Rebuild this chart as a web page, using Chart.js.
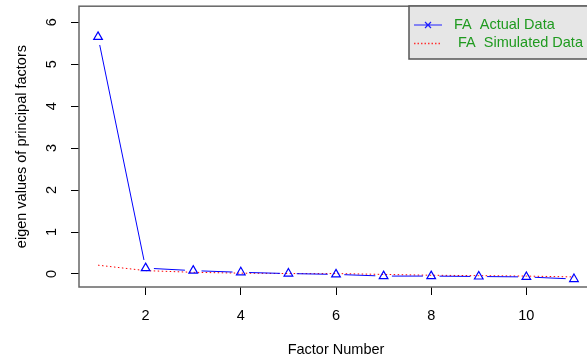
<!DOCTYPE html>
<html>
<head>
<meta charset="utf-8">
<script src="https://cdn.jsdelivr.net/npm/chart.js@4.4.1/dist/chart.umd.min.js"></script>
<style>
  html, body { margin: 0; padding: 0; background: #fff; overflow: hidden; }
  #wrap { width: 587px; height: 364px; overflow: hidden; position: relative; }
  canvas { position: absolute; left: 0; top: 0; }
</style>
</head>
<body>
<div id="wrap"><canvas id="myChart" width="600" height="364"></canvas></div>
<script>
const factors = [1, 2, 3, 4, 5, 6, 7, 8, 9, 10, 11];
const actual = [5.65, 0.14, 0.08, 0.04, 0.01, -0.01, -0.05, -0.05, -0.06, -0.07, -0.12];
const simulated = [0.21, 0.08, 0.04, 0.02, 0.01, 0.01, -0.01, -0.03, -0.04, -0.05, -0.07];
const xTicks = [2, 4, 6, 8, 10];
const yTicks = [0, 1, 2, 3, 4, 5, 6];

const FONT = "'Liberation Sans', Arial, sans-serif";
const GAP = 8.3; // blank space left around each point, like type = "b"

Chart.defaults.font.family = FONT;
Chart.defaults.font.size = 14.5;
Chart.defaults.color = '#000';

function gapDash(c) {
  const len = Math.hypot(c.p1.x - c.p0.x, c.p1.y - c.p0.y);
  return [Math.max(len - 2 * GAP, 0), 2 * GAP];
}

// scales keep a fixed size and add no edge padding for their labels
function fixSize(w, h) {
  return s => {
    if (w) s.width = w;
    if (h) s.height = h;
    s.paddingTop = 0;
    s.paddingBottom = 0;
    s.paddingLeft = 0;
    s.paddingRight = 0;
  };
}

// grey frame round the plotting region
const frame = {
  id: 'frame',
  beforeDatasetsDraw(chart) {
    const a = chart.chartArea, c = chart.ctx;
    c.save();
    c.strokeStyle = '#666';
    c.lineWidth = 1.5;
    c.strokeRect(a.left, a.top, a.right - a.left, a.bottom - a.top);
    c.restore();
  }
};

// legend box in the top right corner
const boxLegend = {
  id: 'boxLegend',
  afterDraw(chart) {
    const c = chart.ctx;
    c.save();
    c.fillStyle = '#e6e6e6';
    c.fillRect(409, 6, 200, 53);
    c.strokeStyle = '#555';
    c.lineWidth = 1.5;
    c.strokeRect(409, 6, 200, 53);

    c.strokeStyle = '#2020ff';
    c.lineWidth = 1.2;
    c.beginPath();
    c.moveTo(414, 25); c.lineTo(442, 25);
    c.moveTo(425, 22); c.lineTo(431, 28);
    c.moveTo(425, 28); c.lineTo(431, 22);
    c.stroke();

    c.strokeStyle = '#ff3030';
    c.lineWidth = 1.3;
    c.setLineDash([1.5, 2]);
    c.beginPath();
    c.moveTo(414, 43.5); c.lineTo(442, 43.5);
    c.stroke();
    c.setLineDash([]);

    c.fillStyle = '#1f9a1f';
    c.font = '14.5px ' + FONT;
    c.textBaseline = 'middle';
    c.fillText('FA  Actual Data', 454, 25);
    c.fillText(' FA  Simulated Data', 454, 43);
    c.restore();
  }
};

const ctx = document.getElementById('myChart');

new Chart(ctx, {
  type: 'line',
  data: {
    datasets: [
      {
        label: 'FA  Actual Data',
        data: factors.map((f, i) => ({ x: f, y: actual[i] })),
        borderColor: '#0000ff',
        borderWidth: 1,
        pointStyle: 'triangle',
        pointRadius: 5,
        pointBorderColor: '#0000ff',
        pointBackgroundColor: 'rgba(0,0,0,0)',
        pointBorderWidth: 1.2,
        segment: {
          borderDash: gapDash,
          borderDashOffset: () => -GAP
        }
      },
      {
        label: ' FA  Simulated Data',
        data: factors.map((f, i) => ({ x: f, y: simulated[i] })),
        borderColor: '#ff0000',
        borderWidth: 1,
        borderDash: [1.5, 2.5],
        pointRadius: 0
      }
    ]
  },
  options: {
    responsive: false,
    animation: false,
    events: [],
    layout: { padding: { top: 6, right: 7, left: 0, bottom: 0 } },
    plugins: {
      legend: { display: false },
      tooltip: { enabled: false }
    },
    scales: {
      x: {
        type: 'linear',
        min: 0.6,
        max: 11.4,
        afterBuildTicks: s => { s.ticks = xTicks.map(v => ({ value: v })); },
        afterFit: fixSize(0, 77),
        grid: { drawOnChartArea: false, tickLength: 8, tickColor: '#000', color: '#000' },
        border: { display: false },
        ticks: { padding: 12, maxRotation: 0, autoSkip: false, callback: v => String(v) },
        title: { display: true, text: 'Factor Number', padding: { top: 0, bottom: 5.3 } }
      },
      y: {
        type: 'linear',
        min: -0.31,
        max: 6.38,
        afterBuildTicks: s => { s.ticks = yTicks.map(v => ({ value: v })); },
        afterFit: fixSize(79, 0),
        grid: { drawOnChartArea: false, tickLength: 8, tickColor: '#000', color: '#000' },
        border: { display: false },
        ticks: { padding: 14.5, minRotation: 90, maxRotation: 90, crossAlign: 'center', autoSkip: false, callback: v => String(v) },
        title: { display: true, text: 'eigen values of principal factors', padding: { top: 13.3, bottom: 0 } }
      }
    }
  },
  plugins: [frame, boxLegend]
});
</script>
</body>
</html>
